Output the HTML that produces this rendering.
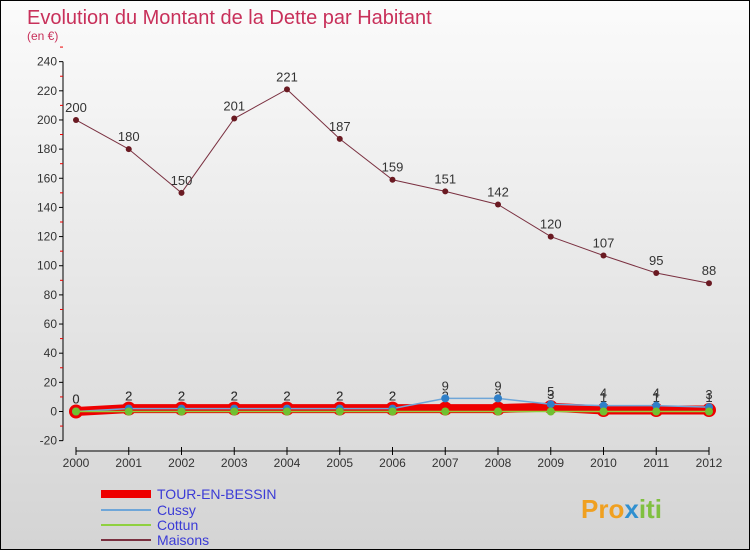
<!DOCTYPE html>
<html><head><meta charset="utf-8"><style>
body{margin:0;}
#c{width:750px;height:550px;position:relative;background:linear-gradient(#fbfbfb,#d4d4d4);border:1px solid #000;box-sizing:border-box;font-family:"Liberation Sans",sans-serif;overflow:hidden}
</style></head><body>
<div id="c">
<svg id="s" width="750" height="550" style="position:absolute;left:0;top:0">
<text x="26" y="23" font-size="20" fill="#c8305a">Evolution du Montant de la Dette par Habitant</text>
<text x="26" y="39" font-size="12" fill="#c8305a">(en €)</text>
<g id="ax"></g><g id="ser"></g>
<g font-size="14" fill="#3b3bd6">
<rect x="100" y="489" width="50" height="8" fill="#ee0000"/>
<text x="156" y="498">TOUR-EN-BESSIN</text>
<line x1="100" y1="509" x2="150" y2="509" stroke="#6fa6d8" stroke-width="2"/>
<text x="156" y="514">Cussy</text>
<line x1="100" y1="524" x2="150" y2="524" stroke="#8fd040" stroke-width="2"/>
<text x="156" y="529">Cottun</text>
<line x1="100" y1="539" x2="150" y2="539" stroke="#7a3040" stroke-width="2"/>
<text x="156" y="544">Maisons</text>
</g>
<text x="580" y="517" font-size="26" font-weight="bold" fill="#f0a020">Pro<tspan fill="#3090d0">x</tspan><tspan fill="#80c040">iti</tspan></text>
</svg>
</div>
<script>
const years=[2000,2001,2002,2003,2004,2005,2006,2007,2008,2009,2010,2011,2012];
const yTicks=[-20,0,20,40,60,80,100,120,140,160,180,200,220,240];
const maisons=[200,180,150,201,221,187,159,151,142,120,107,95,88];
const tour=[0,2,2,2,2,2,2,2,2,3,1,1,1];
const cussy=[0,2,2,2,2,2,2,9,9,5,4,4,3];
const cottun=[0,0,0,0,0,0,0,0,0,0,0,0,0];
const NS="http://www.w3.org/2000/svg";
const X=i=>75+i*52.75;
const Y=v=>410.5-v*1.4577;
function mk(t,a,p){const e=document.createElementNS(NS,t);for(const k in a)e.setAttribute(k,a[k]);p.appendChild(e);return e;}
const ax=document.getElementById('ax'),ser=document.getElementById('ser');
let a=mk('line',{x1:62,y1:Y(240),x2:62,y2:Y(-20),stroke:'#000'},ax);


yTicks.forEach(v=>{
 const l=mk('line',{x1:58,x2:62,y1:Y(v),y2:Y(v),stroke:'#000'},ax);
 
 
 const m=mk('line',{x1:59,x2:62,y1:Y(v+10),y2:Y(v+10),stroke:'#e00'},ax);
 
 
 const t=mk('text',{x:56,y:Y(v)+4,'text-anchor':'end','font-size':12,fill:'#333'},ax);t.textContent=v;
 
 
});
let b=mk('line',{x1:75,y1:450,x2:708,y2:450,stroke:'#000'},ax);


years.forEach((y,i)=>{
 const l=mk('line',{x1:X(i),x2:X(i),y1:446,y2:454,stroke:'#000'},ax);
 
 
 const t=mk('text',{x:X(i),y:466,'text-anchor':'middle','font-size':12,fill:'#333'},ax);t.textContent=y;
 
 
});
function series(d,name,color,w,r,fill,labels){
 const p=mk('polyline',{points:d.map((v,i)=>X(i)+','+Y(v)).join(' '),fill:'none',stroke:color,'stroke-width':w},ser);
 
 
 d.forEach((v,i)=>{
  const c=mk('circle',{cx:X(i),cy:Y(v),r:r,fill:fill},ser);
  
  
  if(labels){const t=mk('text',{x:X(i),y:Y(v)-8,'text-anchor':'middle','font-size':13,fill:'#333'},ser);t.textContent=v;
  
  }
 });
}
series(maisons,'maisons','#7a3040',1,3,'#6a1a22',true);
series(tour,'tour-en-bessin','#ee0000',9,7,'#ee0000',true);
series(cussy,'cussy','#6fa6d8',1.5,4,'#2f7fc8',true);
series(cottun,'cottun','#8fd040',1.5,4,'#70c030',false);
</script>
</body></html>
